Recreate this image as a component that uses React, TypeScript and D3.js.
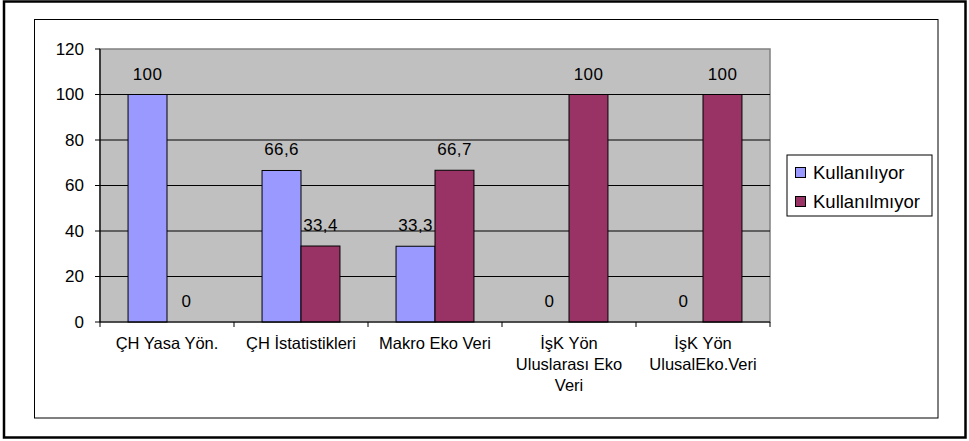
import React from "react";
import * as d3 from "d3";

const categories: string[][] = [
  ["ÇH Yasa Yön."],
  ["ÇH İstatistikleri"],
  ["Makro Eko Veri"],
  ["İşK Yön", "Uluslarası Eko", "Veri"],
  ["İşK Yön", "UlusalEko.Veri"],
];
const kullaniliyor = [100, 66.6, 33.3, 0, 0];
const kullanilmiyor = [0, 33.4, 66.7, 100, 100];
const kullaniliyorLabels = ["100", "66,6", "33,3", "0", "0"];
const kullanilmiyorLabels = ["0", "33,4", "66,7", "100", "100"];
const yTicks = [0, 20, 40, 60, 80, 100, 120];
const seriesNames = ["Kullanılıyor", "Kullanılmıyor"];
const seriesColors = ["#9999FF", "#993366"];

const W = 969;
const H = 441;
const plot = { left: 100, right: 770, top: 49, bottom: 322 };
const font = "'Liberation Sans', Arial, sans-serif";

export default function App() {
  const x = d3
    .scaleBand<number>()
    .domain(d3.range(categories.length))
    .range([plot.left, plot.right]);
  const inner = d3
    .scaleBand<number>()
    .domain([0, 1])
    .range([0, x.bandwidth()])
    .paddingOuter(0.72)
    .paddingInner(0);
  const y = d3.scaleLinear().domain([0, 120]).range([plot.bottom, plot.top]);
  const series = [
    { values: kullaniliyor, labels: kullaniliyorLabels },
    { values: kullanilmiyor, labels: kullanilmiyorLabels },
  ];
  const boundaries = d3.range(categories.length + 1).map((i) =>
    i < categories.length ? (x(i) as number) : plot.right
  );

  return (
    <svg
      width={W}
      height={H}
      style={{ position: "fixed", left: 0, top: 0, background: "#fff" }}
      fontFamily={font}
    >
      <rect x={0} y={0} width={W} height={H} fill="#fff" />
      <rect x={4} y={1.5} width={961.5} height={436} fill="none" stroke="#000" strokeWidth={2.5} />
      <rect x={34.5} y={19.5} width={903.5} height={398.5} fill="none" stroke="#000" strokeWidth={1} />

      {/* plot area */}
      <rect
        x={plot.left}
        y={plot.top}
        width={plot.right - plot.left}
        height={plot.bottom - plot.top}
        fill="#C0C0C0"
        stroke="#808080"
        strokeWidth={1.5}
      />
      {yTicks.slice(1, -1).map((t) => (
        <line key={t} x1={plot.left} x2={plot.right} y1={y(t)} y2={y(t)} stroke="#000" strokeWidth={1} />
      ))}

      {/* bars */}
      {series.map((s, si) =>
        s.values.map((v, ci) => {
          const bx = (x(ci) as number) + (inner(si) as number);
          return (
            <rect
              key={`${si}-${ci}`}
              x={bx}
              y={y(v)}
              width={inner.bandwidth()}
              height={plot.bottom - y(v)}
              fill={seriesColors[si]}
              stroke="#000"
              strokeWidth={1}
            />
          );
        })
      )}

      {/* data labels */}
      {series.map((s, si) =>
        s.values.map((v, ci) => {
          const bx = (x(ci) as number) + (inner(si) as number) + inner.bandwidth() / 2;
          return (
            <text
              key={`l${si}-${ci}`}
              x={bx}
              y={y(v) - 15}
              textAnchor="middle"
              fontSize={17}
              letterSpacing={0.4}
              fill="#000"
            >
              {s.labels[ci]}
            </text>
          );
        })
      )}

      {/* axes */}
      <line x1={plot.left} x2={plot.left} y1={plot.top} y2={plot.bottom} stroke="#000" strokeWidth={1.2} />
      <line x1={plot.left} x2={plot.right} y1={plot.bottom} y2={plot.bottom} stroke="#000" strokeWidth={1.2} />
      {yTicks.map((t) => (
        <g key={`yt${t}`}>
          <line x1={plot.left - 5} x2={plot.left} y1={y(t)} y2={y(t)} stroke="#000" />
          <text x={84} y={y(t)} dy="0.35em" textAnchor="end" fontSize={17} fill="#000">
            {t}
          </text>
        </g>
      ))}
      {boundaries.map((b, i) => (
        <line key={`xt${i}`} x1={b} x2={b} y1={plot.bottom} y2={plot.bottom + 5} stroke="#000" />
      ))}
      {categories.map((lines, ci) => (
        <text
          key={`c${ci}`}
          x={(x(ci) as number) + x.bandwidth() / 2}
          y={349}
          textAnchor="middle"
          fontSize={16.5}
          fill="#000"
        >
          {lines.map((ln, li) => (
            <tspan key={li} x={(x(ci) as number) + x.bandwidth() / 2} dy={li === 0 ? 0 : 21}>
              {ln}
            </tspan>
          ))}
        </text>
      ))}

      {/* legend */}
      <rect x={787} y={155} width={145} height={61} fill="#fff" stroke="#000" strokeWidth={1} />
      {seriesNames.map((n, i) => (
        <g key={n}>
          <rect
            x={795.5}
            y={167.5 + i * 29}
            width={10}
            height={10}
            fill={seriesColors[i]}
            stroke="#000"
            strokeWidth={1}
          />
          <text x={813} y={179 + i * 29} fontSize={18.5} fill="#000">
            {n}
          </text>
        </g>
      ))}
    </svg>
  );
}
